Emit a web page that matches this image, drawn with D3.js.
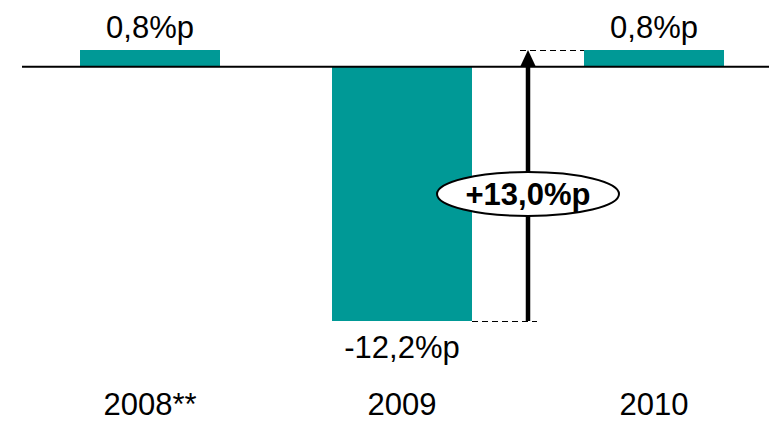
<!DOCTYPE html>
<html>
<head>
<meta charset="utf-8">
<script src="https://cdn.jsdelivr.net/npm/d3@7"></script>
<style>
  html, body { margin: 0; padding: 0; background: #fff; }
  svg { display: block; font-family: Arial, "Liberation Sans", sans-serif; }
</style>
</head>
<body>
<svg id="chart" width="769" height="421"></svg>
<script>
// Change in percentage points per year
const years = ["2008**", "2009", "2010"];
const changes = [0.8, -12.2, 0.8];
// The swing highlighted between 2009 and 2010
const swingFrom = "2009";
const swingTo = "2010";

const W = 769, H = 421;
const teal = "#009996";
// comma decimal, plain hyphen for negatives
const fmt = v => d3.format(".1f")(v).replace(".", ",").replace("\u2212", "-");

const svg = d3.select("#chart");

const x = d3.scaleBand()
  .domain(years)
  .range([24, 780])
  .paddingInner(112 / 252)
  .paddingOuter(56 / 252);

const y = d3.scaleLinear()
  .domain([d3.min(changes), d3.max(changes)])
  .range([321, 50]);

const data = years.map((yr, i) => ({ yr, v: changes[i] }));

// Bars
svg.append("g").selectAll("rect")
  .data(data)
  .join("rect")
  .attr("x", d => x(d.yr))
  .attr("width", x.bandwidth())
  .attr("y", d => Math.min(y(d.v), y(0)))
  .attr("height", d => Math.abs(y(d.v) - y(0)))
  .attr("fill", teal);

// Zero line
svg.append("line")
  .attr("x1", 22).attr("x2", W)
  .attr("y1", y(0)).attr("y2", y(0))
  .attr("stroke", "#000").attr("stroke-width", 2);

// Value labels
svg.append("g").selectAll("text")
  .data(data)
  .join("text")
  .attr("x", d => x(d.yr) + x.bandwidth() / 2)
  .attr("y", d => d.v >= 0 ? y(d.v) - 12 : y(d.v) + 37)
  .attr("text-anchor", "middle")
  .attr("font-size", 31)
  .attr("fill", "#000")
  .text(d => fmt(d.v) + "%p");

// Category axis (labels only)
const xAxis = svg.append("g")
  .attr("transform", `translate(0,${415})`)
  .call(d3.axisBottom(x).tickSize(0).tickPadding(0));
xAxis.select(".domain").remove();
xAxis.selectAll("text")
  .attr("font-size", 31)
  .attr("font-family", "Arial, 'Liberation Sans', sans-serif")
  .attr("fill", "#000")
  .attr("dy", 0)
  .attr("y", 0);

// Swing arrow between the two years
const vFrom = changes[years.indexOf(swingFrom)];
const vTo = changes[years.indexOf(swingTo)];
const ax = (x(swingFrom) + x.bandwidth() + x(swingTo)) / 2;
const yLow = y(vFrom), yHigh = y(vTo);

// dashed guide lines
svg.append("line")
  .attr("x1", x(swingFrom) + x.bandwidth()).attr("x2", ax + 9)
  .attr("y1", yLow + 0.5).attr("y2", yLow + 0.5)
  .attr("stroke", "#000").attr("stroke-width", 1)
  .attr("stroke-dasharray", "6,4");
svg.append("line")
  .attr("x1", ax - 8).attr("x2", x(swingTo))
  .attr("y1", yHigh + 0.5).attr("y2", yHigh + 0.5)
  .attr("stroke", "#000").attr("stroke-width", 1)
  .attr("stroke-dasharray", "6,4");

// shaft
svg.append("line")
  .attr("x1", ax).attr("x2", ax)
  .attr("y1", yLow).attr("y2", yHigh + 14)
  .attr("stroke", "#000").attr("stroke-width", 4.5);
// head
svg.append("path")
  .attr("d", `M${ax},${yHigh} L${ax + 8},${yHigh + 17} L${ax - 8},${yHigh + 17} Z`)
  .attr("fill", "#000");

// swing label
const swing = vTo - vFrom;
const ey = 194;
svg.append("ellipse")
  .attr("cx", ax).attr("cy", ey)
  .attr("rx", 91).attr("ry", 22)
  .attr("fill", "#fff")
  .attr("stroke", "#000").attr("stroke-width", 2);
svg.append("text")
  .attr("x", ax).attr("y", ey + 11)
  .attr("text-anchor", "middle")
  .attr("font-size", 31)
  .attr("font-weight", "bold")
  .attr("fill", "#000")
  .text("+" + fmt(swing) + "%p");
</script>
</body>
</html>
